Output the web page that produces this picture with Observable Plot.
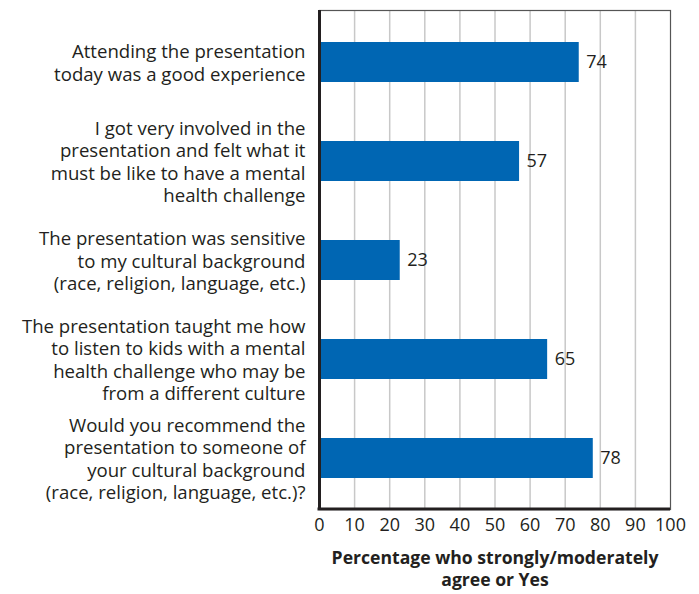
<!DOCTYPE html>
<html>
<head>
<meta charset="utf-8">
<script src="https://cdn.jsdelivr.net/npm/d3@7"></script>
<script src="https://cdn.jsdelivr.net/npm/@observablehq/plot@0.6"></script>
<style>
  html, body { margin: 0; padding: 0; background: #fff; }
  #chart svg { font-family: "Open Sans", sans-serif; display: block; }
</style>
</head>
<body>
<div id="chart"></div>
<script>
const categories = [
  "Attending the presentation\ntoday was a good experience",
  "I got very involved in the\npresentation and felt what it\nmust be like to have a mental\nhealth challenge",
  "The presentation was sensitive\nto my cultural background\n(race, religion, language, etc.)",
  "The presentation taught me how\nto listen to kids with a mental\nhealth challenge who may be\nfrom a different culture",
  "Would you recommend the\npresentation to someone of\nyour cultural background\n(race, religion, language, etc.)?"
];
const values = [74, 57, 23, 65, 78];
const xTicks = [0, 10, 20, 30, 40, 50, 60, 70, 80, 90, 100];
const xTitle = "Percentage who strongly/moderately\nagree or Yes";

const data = categories.map((c, i) => ({category: c, value: values[i]}));

const bottomLine = (index, scales, vals, dims) => {
  const y = dims.height - dims.marginBottom;
  return d3.create("svg:line")
    .attr("x1", dims.marginLeft - 1.5).attr("x2", dims.width - dims.marginRight)
    .attr("y1", y).attr("y2", y)
    .attr("stroke", "#231f20").attr("stroke-width", 3).node();
};

const chart = Plot.plot({
  width: 699,
  height: 594,
  marginLeft: 319,
  marginRight: 29,
  marginTop: 10,
  marginBottom: 85,
  style: {fontSize: "18px", color: "#231f20"},
  x: {domain: [0, 100], ticks: xTicks, tickSize: 0, tickPadding: 9, label: null},
  y: {domain: categories, padding: 0.6, paddingOuter: 0.3, axis: null},
  marks: [
    Plot.ruleX(xTicks.slice(1, -1), {stroke: "#c8c8c8", strokeWidth: 1.5}),
    Plot.frame({stroke: "#555", strokeWidth: 1.2}),
    Plot.barX(data, {x: "value", y: "category", fill: "#0066b3"}),
    Plot.text(data, {x: "value", y: "category", text: d => String(d.value), textAnchor: "start", dx: 7, fontSize: 18, fill: "#231f20"}),
    Plot.text(data, {y: "category", text: "category", frameAnchor: "left", textAnchor: "end", dx: -14, fontSize: 18.6, lineHeight: 1.2, fill: "#231f20"}),
    Plot.ruleX([0], {stroke: "#231f20", strokeWidth: 3}),
    bottomLine,
    Plot.text([xTitle], {text: d => d, frameAnchor: "bottom", dy: 39, lineAnchor: "top", fontSize: 17.6, fontWeight: "bold", lineHeight: 1.25, fill: "#231f20"})
  ]
});
document.getElementById("chart").append(chart);
</script>
</body>
</html>
